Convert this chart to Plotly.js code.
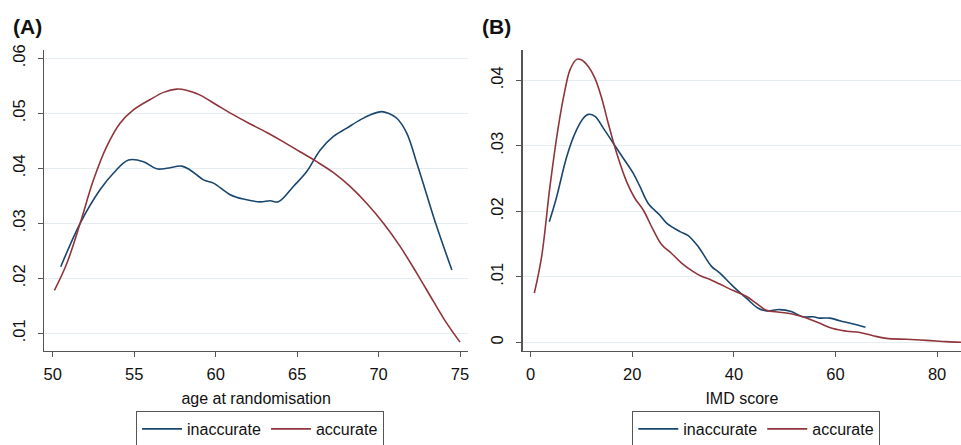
<!DOCTYPE html>
<html>
<head>
<meta charset="utf-8">
<script src="https://cdn.plot.ly/plotly-3.0.1.min.js"></script>
<style>html,body{margin:0;padding:0;background:#fff;}#chart{width:961px;height:445px;}</style>
</head>
<body>
<div id="chart"></div>
<script>
// Panel A: age at randomisation (kernel density)
const ageInaccX = [50.49,51.68,52.9,53.72,54.65,55.57,56.38,57.0,57.92,58.43,59.25,59.86,60.89,61.7,62.73,63.34,63.85,64.77,65.59,66.41,67.23,68.05,68.87,69.48,70.2,70.6,71.12,71.73,72.35,72.86,73.57,74.5];
const ageInaccY = [0.0221,0.0300,0.0361,0.0391,0.0415,0.0412,0.0399,0.0400,0.0404,0.0397,0.0379,0.0373,0.0352,0.0344,0.0339,0.0341,0.0339,0.0367,0.0394,0.0433,0.0458,0.0473,0.0488,0.0497,0.0503,0.0500,0.0491,0.0464,0.0409,0.0361,0.0294,0.0215];
const ageAccX = [50.1,50.86,51.68,52.5,53.3,54.13,54.95,55.98,56.8,57.6,58.2,59.05,60.07,61.1,62.1,63.14,64.16,65.18,66.2,67.23,68.25,69.28,70.3,71.32,72.35,73.37,74.19,75.0];
const ageAccY = [0.0178,0.0227,0.0300,0.0379,0.0439,0.0482,0.0506,0.0525,0.0538,0.0544,0.0542,0.0533,0.0515,0.0497,0.0481,0.0465,0.0448,0.0430,0.0412,0.0392,0.0367,0.0336,0.0300,0.0258,0.0209,0.0158,0.0118,0.0084];

// Panel B: IMD score (kernel density)
const imdInaccX = [3.67,5.11,7.08,8.72,10.36,11.34,12.66,14.3,16.26,18.23,20.2,21.5,23.15,25.44,26.75,29.4,31.0,33.0,35.6,37.2,39.9,42.5,44.8,46.4,49.0,51.3,53.6,55.6,56.9,58.9,60.85,63.5,65.9];
const imdInaccY = [0.0184,0.0222,0.0283,0.0319,0.0342,0.0348,0.0345,0.0327,0.0304,0.0281,0.0258,0.0238,0.0212,0.0194,0.0182,0.0169,0.0163,0.0146,0.0116,0.0106,0.0085,0.0067,0.0052,0.0048,0.0050,0.0047,0.0039,0.0039,0.0037,0.0037,0.0033,0.0028,0.0023];
const imdAccX = [0.72,2.16,3.8,5.44,6.75,7.74,9.05,10.03,11.34,12.66,13.97,15.28,16.92,18.9,20.5,22.16,24.1,25.8,27.7,29.7,32.0,33.6,35.3,37.2,39.9,42.5,44.5,46.4,49.0,51.7,54.3,56.9,59.5,62.2,64.8,67.4,70.0,74.0,77.9,81.8,84.7];
const imdAccY = [0.0075,0.0131,0.0238,0.0329,0.0385,0.0416,0.0432,0.0431,0.0421,0.0403,0.0373,0.0334,0.0289,0.0245,0.0220,0.0202,0.0172,0.0149,0.0136,0.0121,0.0108,0.0101,0.0096,0.0089,0.0079,0.0070,0.0059,0.0049,0.0046,0.0043,0.0037,0.0029,0.0021,0.0017,0.0015,0.0010,0.0006,0.00046,0.0003,0.0001,0.0];

const seriesNames = ['inaccurate','accurate'];
const ageTickVals = [50,55,60,65,70,75];
const ageYTickVals = [0.01,0.02,0.03,0.04,0.05,0.06];
const ageYTickText = ['.01','.02','.03','.04','.05','.06'];
const imdTickVals = [0,20,40,60,80];
const imdYTickVals = [0,0.01,0.02,0.03,0.04];
const imdYTickText = ['0','.01','.02','.03','.04'];

const BLUE = '#1a476f', RED = '#90353b';
const FONT = '"Liberation Sans", Arial, sans-serif';
const FS = 16;
const TFS = 16.5;

const traces = [
  {x: ageInaccX, y: ageInaccY, name: seriesNames[0], mode:'lines', line:{color:BLUE,width:1.6,shape:'spline'}, xaxis:'x', yaxis:'y', legend:'legend'},
  {x: ageAccX, y: ageAccY, name: seriesNames[1], mode:'lines', line:{color:RED,width:1.6,shape:'spline'}, xaxis:'x', yaxis:'y', legend:'legend'},
  {x: imdInaccX, y: imdInaccY, name: seriesNames[0], mode:'lines', line:{color:BLUE,width:1.6,shape:'spline'}, xaxis:'x2', yaxis:'y2', legend:'legend2'},
  {x: imdAccX, y: imdAccY, name: seriesNames[1], mode:'lines', line:{color:RED,width:1.6,shape:'spline'}, xaxis:'x2', yaxis:'y2', legend:'legend2'}
];

const axisCommon = {showline:true, linecolor:'#555', linewidth:1.2, ticks:'outside', ticklen:5, tickcolor:'#555', tickfont:{family:FONT,size:TFS,color:'#111'}, zeroline:false, fixedrange:true};
const yDomain = [0.2119, 0.8876];

const layout = {
  width:961, height:445,
  margin:{l:0,r:0,t:0,b:0,autoexpand:false},
  paper_bgcolor:'#fff', plot_bgcolor:'#fff',
  font:{family:FONT,size:FS,color:'#111'},
  xaxis: Object.assign({}, axisCommon, {domain:[0.0461,0.487], range:[49.48,75.49], tickvals:ageTickVals, showgrid:false, ticklabelstandoff:3,
    title:{text:'age at randomisation', font:{family:FONT,size:FS,color:'#111'}, standoff:11}, anchor:'y'}),
  yaxis: Object.assign({}, axisCommon, {domain:yDomain, range:[0.00684,0.0615], tickvals:ageYTickVals, ticktext:ageYTickText, tickangle:-90,
    ticklabelstandoff:7, showgrid:true, gridcolor:'#e4edef', gridwidth:1.2, anchor:'x'}),
  xaxis2: Object.assign({}, axisCommon, {domain:[0.5439,1.0], range:[-1.57,84.7], tickvals:imdTickVals, showgrid:false, ticklabelstandoff:3,
    title:{text:'IMD score', font:{family:FONT,size:FS,color:'#111'}, standoff:11}, anchor:'y2'}),
  yaxis2: Object.assign({}, axisCommon, {domain:yDomain, range:[-0.00128,0.04463], tickvals:imdYTickVals, ticktext:imdYTickText, tickangle:-90,
    ticklabelstandoff:7, showgrid:true, gridcolor:'#e4edef', gridwidth:1.2, anchor:'x2'}),
  legend:{orientation:'h', x:0.2706, xanchor:'center', y:1-411/445, yanchor:'top', bordercolor:'#555', borderwidth:1, font:{family:FONT,size:FS,color:'#111'}, bgcolor:'#fff', itemwidth:40},
  legend2:{orientation:'h', x:0.787, xanchor:'center', y:1-411/445, yanchor:'top', bordercolor:'#555', borderwidth:1, font:{family:FONT,size:FS,color:'#111'}, bgcolor:'#fff', itemwidth:40},
  showlegend:true,
  annotations:[
    {text:'<b>(A)</b>', xref:'paper', yref:'paper', x:11/961, y:1-27/445, xanchor:'left', yanchor:'middle', showarrow:false, font:{family:FONT,size:21,color:'#111'}},
    {text:'<b>(B)</b>', xref:'paper', yref:'paper', x:480/961, y:1-27/445, xanchor:'left', yanchor:'middle', showarrow:false, font:{family:FONT,size:21,color:'#111'}}
  ]
};

Plotly.newPlot('chart', traces, layout, {displayModeBar:false, staticPlot:true});
</script>
</body>
</html>
